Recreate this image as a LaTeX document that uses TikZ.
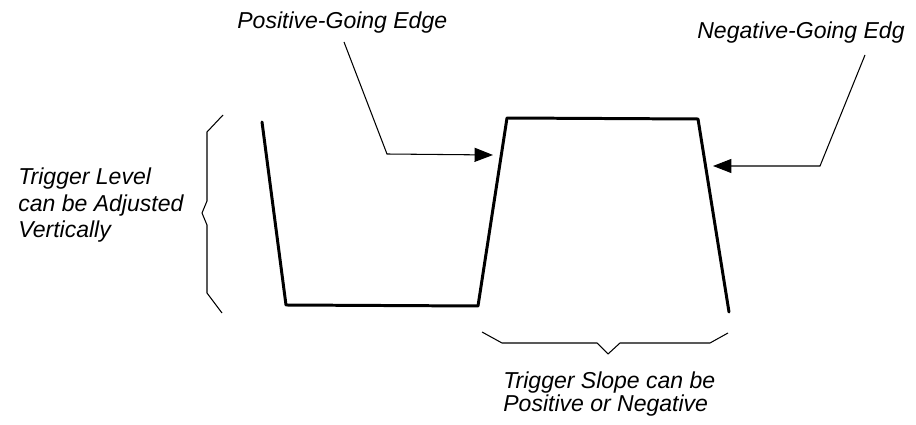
\documentclass[tikz,border=0pt]{standalone}
\usepackage{fontspec}
\setmainfont{Liberation Sans}
\usetikzlibrary{arrows.meta,positioning}

\tikzset{
  wave/.style={line width=1.7pt, line join=round, line cap=round},
  pointer/.style={line width=0.6pt, -{Triangle[length=10.5pt,width=8pt]}},
  bracket/.style={line width=0.6pt, line join=round},
  caption/.style={inner sep=0pt, font=\fontsize{13.1}{15.2}\selectfont\itshape, align=left},
}

\begin{document}
\begin{tikzpicture}[x=0.02cm, y=-0.02cm]
  \useasboundingbox (0,0) rectangle (916,425);

  % the trigger waveform
  \coordinate (w0) at (262,122);
  \coordinate (w1) at (286,305);
  \coordinate (w2) at (478,306);
  \coordinate (w3) at (507,118);
  \coordinate (w4) at (698,119);
  \coordinate (w5) at (729,312);
  \draw[wave] (w0) -- (w1) -- (w2) -- (w3) -- (w4) -- (w5);

  % labels (base = last line)
  \node[caption, anchor=base west] (poslabel) at (237,29) {Positive-Going Edge};
  \node[caption, anchor=base west] (neglabel) at (697,39) {Negative-Going Edg};
  \node[caption, anchor=base west] (levellabel) at (18,238)
    {Trigger Level\\can be Adjusted\\Vertically};
  \node[caption, anchor=base west, font=\fontsize{13.1}{13.6}\selectfont\itshape]
    (slopelabel) at (503,412) {Trigger Slope can be\\Positive or Negative};

  % pointers to the edges
  \coordinate (posstart) at (344,42);
  \coordinate (posbend) at (387,154);
  \coordinate (postip) at (493,155);
  \coordinate (negstart) at (865,55);
  \coordinate (negbend) at (820,166);
  \coordinate (negtip) at (713,166);
  \draw[pointer] (posstart) -- (posbend) -- (postip);
  \draw[pointer] (negstart) -- (negbend) -- (negtip);

  % braces
  \draw[bracket] (223,115) -- (207,132) -- (207,201) -- (202,213)
    -- (207,225) -- (207,293) -- (222,313);
  \draw[bracket] (482,332) -- (502,343) -- (597,343) -- (608,354)
    -- (620,343) -- (710,343) -- (728,333);
\end{tikzpicture}
\end{document}
